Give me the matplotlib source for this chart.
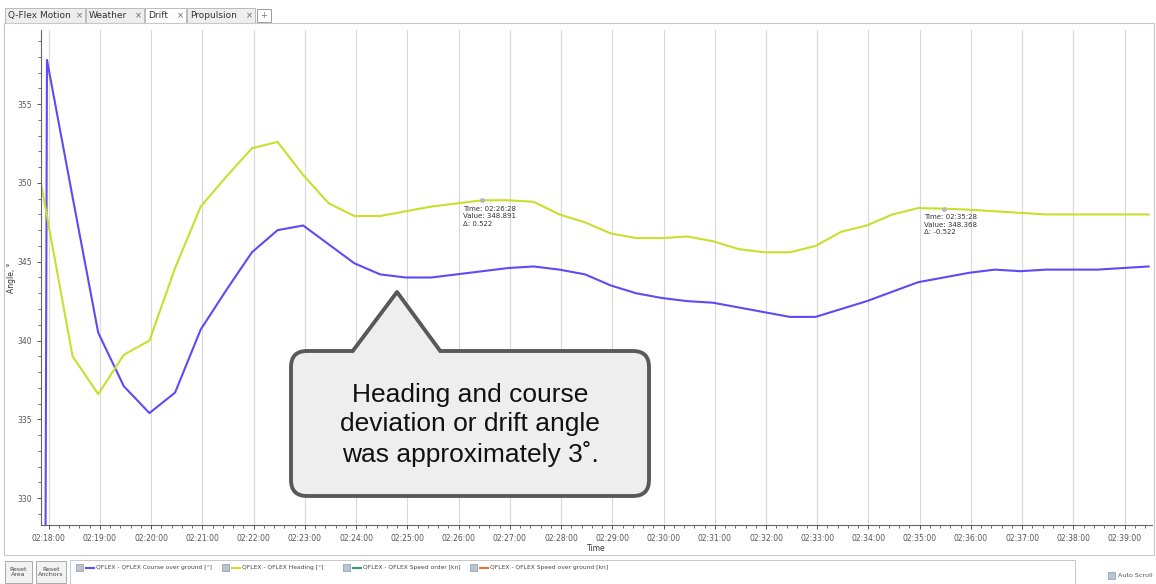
import pandas as pd
import matplotlib
matplotlib.use("Agg")
import matplotlib.pyplot as plt
import matplotlib.dates as mdates
from matplotlib.patches import Rectangle, FancyBboxPatch, Polygon

# sample times (first sample a few seconds earlier, then every 30 s)
times = pd.to_datetime(["2024-01-01 02:17:52"]).append(
    pd.date_range("2024-01-01 02:17:58", periods=44, freq="30s"))

course = [250.0, 357.8, 349.1, 340.5, 337.1, 335.4, 336.7, 340.7, 343.2, 345.6, 347.0,
          347.3, 346.1, 344.9, 344.2, 344.0, 344.0, 344.2, 344.4, 344.6, 344.7,
          344.5, 344.2, 343.5, 343.0, 342.7, 342.5, 342.4, 342.1, 341.8, 341.5,
          341.5, 342.0, 342.5, 343.1, 343.7, 344.0, 344.3, 344.5, 344.4, 344.5,
          344.5, 344.5, 344.6, 344.7]
heading = [349.7, 347.9, 339.0, 336.6, 339.1, 340.0, 344.6, 348.5, 350.4, 352.2, 352.6,
           350.5, 348.7, 347.9, 347.9, 348.2, 348.5, 348.7, 348.9, 348.9, 348.8,
           348.0, 347.5, 346.8, 346.5, 346.5, 346.6, 346.3, 345.8, 345.6, 345.6,
           346.0, 346.9, 347.3, 348.0, 348.4, 348.37, 348.3, 348.2, 348.1, 348.0,
           348.0, 348.0, 348.0, 348.0]

tabs = ["Q-Flex Motion", "Weather", "Drift", "Propulsion"]
legend_items = ["QFLEX - QFLEX Course over ground [°]", "QFLEX - QFLEX Heading [°]",
                "QFLEX - QFLEX Speed order [kn]", "QFLEX - QFLEX Speed over ground [kn]"]
legend_colors = ["#5b4cf5", "#c8df2e", "#2e9e78", "#f07030"]
tooltips = [("2024-01-01 02:26:28", 348.891, "Time: 02:26:28\nValue: 348.891\nΔ: 0.522"),
            ("2024-01-01 02:35:28", 348.368, "Time: 02:35:28\nValue: 348.368\nΔ: -0.522")]

W, H = 1156, 584
fig = plt.figure(figsize=(W / 100, H / 100), dpi=100)
fig.patch.set_facecolor("white")

ax = fig.add_axes([41 / W, 1 - 525 / H, (1152 - 41) / W, (525 - 30) / H])
ax.plot(times, course, color="#5b4cf5", lw=1.5)
ax.plot(times, heading, color="#c8df2e", lw=1.5)
for t, v, txt in tooltips:
    t = pd.Timestamp(t)
    ax.plot(t, v, "o", ms=2.5, color="#b8b8b8")
    ax.annotate(txt, (t, v), xytext=(-14, -4), textcoords="offset points",
                fontsize=5, va="top", ha="left", color="#333333", linespacing=1.3)

ax.set_xlim(pd.Timestamp("2024-01-01 02:17:51"), pd.Timestamp("2024-01-01 02:39:32"))
ax.set_ylim(328.3, 359.7)
ax.set_yticks([330, 335, 340, 345, 350, 355])
ax.set_yticks(range(329, 360), minor=True)
ax.xaxis.set_major_locator(mdates.MinuteLocator())
ax.xaxis.set_minor_locator(mdates.SecondLocator(bysecond=[12, 24, 36, 48]))
ax.xaxis.set_major_formatter(mdates.DateFormatter("%H:%M:%S"))
ax.tick_params(labelsize=5.5, colors="#555555", length=3, width=0.7)
ax.tick_params(which="minor", length=2, width=0.6, colors="#555555")
ax.grid(axis="x", color="#d8d8d8", lw=0.8)
ax.set_xlabel("Time", fontsize=5.5, labelpad=1, color="#333333")
ax.set_ylabel("Angle, °", fontsize=5.5, labelpad=1, color="#333333")
for side in ["top", "right"]:
    ax.spines[side].set_visible(False)
ax.spines["left"].set_color("#666666")
ax.spines["bottom"].set_color("#666666")

# overlay in pixel coordinates for the UI chrome and callout
ov = fig.add_axes([0, 0, 1, 1], zorder=5)
ov.set_xlim(0, W)
ov.set_ylim(H, 0)
ov.axis("off")
ov.patch.set_alpha(0)

# tabs
tab_x = [5, 86, 145, 187, 256]
for i, name in enumerate(tabs):
    x0, x1 = tab_x[i], tab_x[i + 1] - 1
    active = name == "Drift"
    ov.add_patch(Rectangle((x0, 8), x1 - x0, 15, fc="white" if active else "#eeeeee",
                           ec="#bbbbbb", lw=0.7))
    ov.text(x0 + 3, 15.5, name, fontsize=6.5, va="center", color="#333333")
    ov.text(x1 - 6, 15.5, "×", fontsize=6, va="center", ha="center", color="#666666")
ov.add_patch(Rectangle((257, 9), 14, 13, fc="white", ec="#999999", lw=0.7))
ov.text(264, 15.5, "+", fontsize=6, ha="center", va="center", color="#777777")
ov.add_patch(Rectangle((4, 23), W - 6, 532, fc="none", ec="#c8c8c8", lw=0.8))

# bottom bar
for x0, w, lab in [(5, 27, "Reset\nArea"), (36, 30, "Reset\nAnchors")]:
    ov.add_patch(Rectangle((x0, 561), w, 22, fc="#f2f2f2", ec="#aaaaaa", lw=0.7))
    ov.text(x0 + w / 2, 572, lab, fontsize=4.5, ha="center", va="center",
            color="#444444", linespacing=1.1)
ov.add_patch(Rectangle((70, 560), 1005, 24, fc="white", ec="#c8c8c8", lw=0.7))
leg_x = [76, 222, 343, 470]
for x0, lab, c in zip(leg_x, legend_items, legend_colors):
    ov.add_patch(Rectangle((x0, 564), 7, 7, fc="#b8c4d0", ec="#8899aa", lw=0.5))
    ov.plot([x0 + 10, x0 + 18], [567.5, 567.5], color=c, lw=1.5)
    ov.text(x0 + 20, 567.5, lab, fontsize=4.3, va="center", color="#444444")
ov.add_patch(Rectangle((1108, 572), 7, 7, fc="#b8c4d0", ec="#8899aa", lw=0.5))
ov.text(1118, 575.5, "Auto Scroll", fontsize=4.6, va="center", color="#555555")

# callout
ov.add_patch(FancyBboxPatch((291, 351), 358, 145, boxstyle="round,pad=0,rounding_size=16",
                            fc="#eeeeee", ec="#595959", lw=2.8, zorder=2))
ov.add_patch(Polygon([(353, 353), (397, 292), (440, 353)], closed=True,
                     fc="#eeeeee", ec="none", zorder=3))
ov.plot([352, 397, 441], [352, 292, 352], color="#595959", lw=2.8,
        solid_joinstyle="round", solid_capstyle="butt", zorder=4)
ov.text(470, 425, "Heading and course\ndeviation or drift angle\nwas approximately 3˚.",
        fontsize=19, family="Liberation Sans", ha="center", va="center",
        linespacing=1.25, color="#111111", zorder=5)

fig.savefig("out.png", dpi=100)
